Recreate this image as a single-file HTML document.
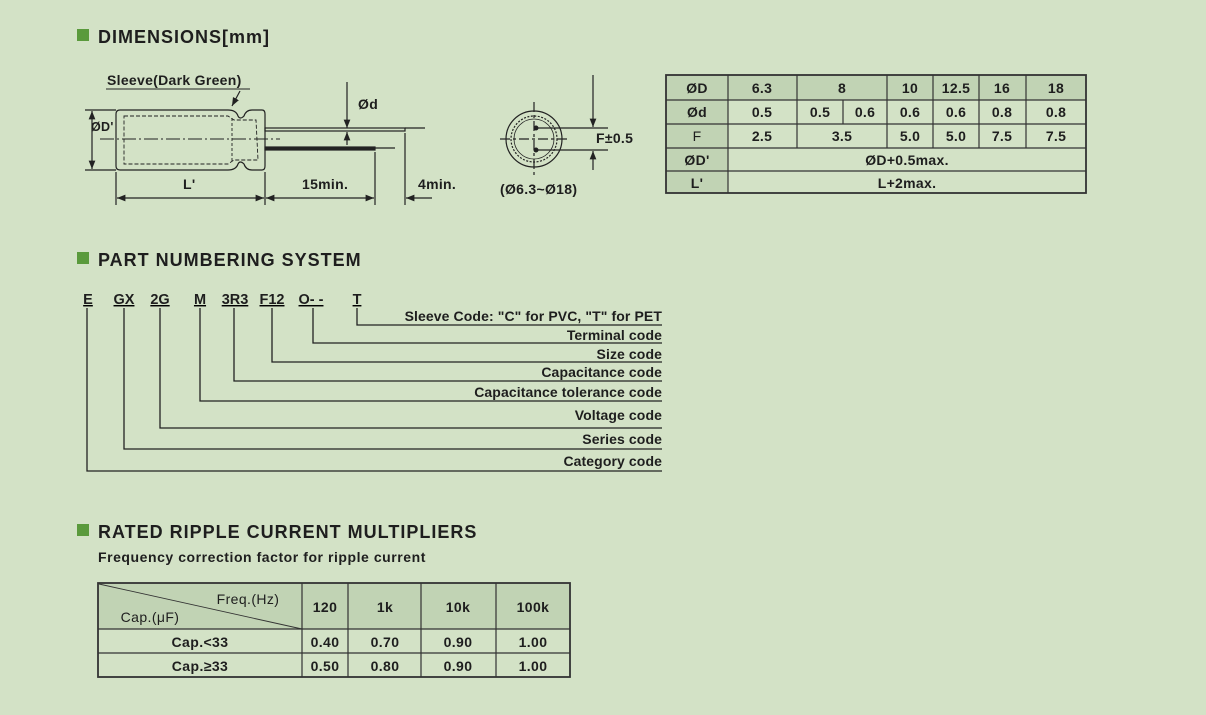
<!DOCTYPE html>
<html><head><meta charset="utf-8"><style>
body{margin:0;width:1206px;height:715px;background:#d3e2c6;overflow:hidden;font-family:"Liberation Sans",Arial,sans-serif;}
svg{position:absolute;left:0;top:0}
text{font-family:"Liberation Sans",Arial,sans-serif;fill:#1e1e1e}
</style></head><body>
<svg width="1206" height="715" viewBox="0 0 1206 715">
<defs>
<marker id="a" viewBox="0 0 10 10" refX="10" refY="5" markerWidth="7" markerHeight="7" orient="auto-start-reverse"><path d="M0,1 L10,5 L0,9 z" fill="#222"/></marker>
</defs>
<g fill="#5a9a3c">
<rect x="77" y="29" width="12" height="12"/>
<rect x="77" y="252" width="12" height="12"/>
<rect x="77" y="524" width="12" height="12"/>
</g>
<g font-size="18" font-weight="bold" letter-spacing="1">
<text x="98" y="43">DIMENSIONS[mm]</text>
<text x="98" y="266">PART NUMBERING SYSTEM</text>
<text x="98" y="538">RATED RIPPLE CURRENT MULTIPLIERS</text>
</g>
<text x="98" y="562" font-size="14" font-weight="bold" letter-spacing="0.55">Frequency correction factor for ripple current</text>

<!-- capacitor drawing -->
<g stroke="#222" fill="none" stroke-width="1.2">
<path d="M120,110 L228,110 Q236,110 238,116 Q240,120 244,116 Q246,110 252,110 L262,110 Q265,110 265,114 L265,166 Q265,170 262,170 L252,170 Q246,170 244,164 Q240,160 238,164 Q236,170 228,170 L120,170 Q116,170 116,166 L116,114 Q116,110 120,110 Z"/>
<path d="M124,116 L228,116 L234,120 L256,120 L258,160 L234,160 L228,164 L124,164 Z" stroke-dasharray="4,2" stroke-width="0.9"/>
<line x1="232" y1="118" x2="232" y2="162" stroke-dasharray="3,2" stroke-width="0.9"/>
<line x1="100" y1="139" x2="280" y2="139" stroke-dasharray="14,3,2,3" stroke-width="0.9"/>
<rect x="265" y="128" width="140" height="3" />
<rect x="265" y="147" width="110" height="3" fill="#222"/>
<line x1="375" y1="148" x2="395" y2="148"/>
<line x1="405" y1="128" x2="425" y2="128"/>
<line x1="85" y1="110" x2="116" y2="110"/>
<line x1="85" y1="170" x2="116" y2="170"/>
<line x1="92" y1="111" x2="92" y2="169" marker-start="url(#a)" marker-end="url(#a)"/>
<line x1="116" y1="172" x2="116" y2="205"/>
<line x1="265" y1="172" x2="265" y2="205"/>
<line x1="375" y1="152" x2="375" y2="205"/>
<line x1="405" y1="133" x2="405" y2="205"/>
<line x1="117" y1="198" x2="264" y2="198" marker-start="url(#a)" marker-end="url(#a)"/>
<line x1="266" y1="198" x2="374" y2="198" marker-start="url(#a)" marker-end="url(#a)"/>
<line x1="432" y1="198" x2="406" y2="198" marker-end="url(#a)"/>
<line x1="347" y1="82" x2="347" y2="128" marker-end="url(#a)"/>
<line x1="347" y1="145" x2="347" y2="132" marker-end="url(#a)"/>
<line x1="106" y1="89" x2="250" y2="89" stroke-width="0.9"/>
<line x1="240" y1="91" x2="232" y2="106" marker-end="url(#a)"/>
</g>
<g font-size="14" font-weight="bold" letter-spacing="0.3">
<text x="107" y="85">Sleeve(Dark Green)</text>
<text x="91" y="131" font-size="12.5">ØD'</text>
<text x="358" y="109">Ød</text>
<text x="183" y="189">L'</text>
<text x="302" y="189">15min.</text>
<text x="418" y="189">4min.</text>
<text x="596" y="143">F±0.5</text>
<text x="500" y="194">(Ø6.3~Ø18)</text>
</g>
<!-- circle -->
<g stroke="#222" fill="none" stroke-width="1.2">
<circle cx="534" cy="139" r="28"/>
<circle cx="534" cy="139" r="23" stroke-dasharray="2,1.5"/>
<circle cx="534" cy="139" r="20" stroke-width="0.8"/>
<line x1="500" y1="139" x2="570" y2="139" stroke-dasharray="10,3,3,3"/>
<line x1="534" y1="102" x2="534" y2="176" stroke-dasharray="10,3,3,3"/>
<line x1="536" y1="128" x2="608" y2="128"/>
<line x1="536" y1="150" x2="608" y2="150"/>
<line x1="593" y1="75" x2="593" y2="127" marker-end="url(#a)"/>
<line x1="593" y1="170" x2="593" y2="151" marker-end="url(#a)"/>
</g>
<circle cx="536" cy="128" r="2.5" fill="#222"/>
<circle cx="536" cy="150" r="2.5" fill="#222"/>

<!-- table 1 -->
<g fill="#c1d3b4"><rect x="666" y="75" width="420" height="25"/><rect x="666" y="75" width="62" height="118"/></g>
<g stroke="#333" stroke-width="1.2" fill="none">
<rect x="666" y="75" width="420" height="118" stroke-width="1.8"/>
<line x1="666" y1="100" x2="1086" y2="100"/>
<line x1="666" y1="124" x2="1086" y2="124"/>
<line x1="666" y1="148" x2="1086" y2="148"/>
<line x1="666" y1="171" x2="1086" y2="171"/>
<line x1="728" y1="75" x2="728" y2="193"/>
<line x1="797" y1="75" x2="797" y2="148"/>
<line x1="843" y1="100" x2="843" y2="124"/>
<line x1="887" y1="75" x2="887" y2="148"/>
<line x1="933" y1="75" x2="933" y2="148"/>
<line x1="979" y1="75" x2="979" y2="148"/>
<line x1="1026" y1="75" x2="1026" y2="148"/>
</g>
<g font-size="14" font-weight="bold" text-anchor="middle" letter-spacing="0.3">
<text x="697" y="93">ØD</text><text x="762" y="93">6.3</text><text x="842" y="93">8</text><text x="910" y="93">10</text><text x="956" y="93">12.5</text><text x="1002" y="93">16</text><text x="1056" y="93">18</text>
<text x="697" y="117">Ød</text><text x="762" y="117">0.5</text><text x="820" y="117">0.5</text><text x="865" y="117">0.6</text><text x="910" y="117">0.6</text><text x="956" y="117">0.6</text><text x="1002" y="117">0.8</text><text x="1056" y="117">0.8</text>
<text x="697" y="141" font-weight="normal">F</text><text x="762" y="141">2.5</text><text x="842" y="141">3.5</text><text x="910" y="141">5.0</text><text x="956" y="141">5.0</text><text x="1002" y="141">7.5</text><text x="1056" y="141">7.5</text>
<text x="697" y="165">ØD'</text><text x="907" y="165">ØD+0.5max.</text>
<text x="697" y="188">L'</text><text x="907" y="188">L+2max.</text>
</g>

<!-- part numbering -->
<g font-size="14.5" font-weight="bold" text-anchor="middle" text-decoration="underline">
<text x="88" y="304">E</text><text x="124" y="304">GX</text><text x="160" y="304">2G</text><text x="200" y="304">M</text><text x="235" y="304">3R3</text><text x="272" y="304">F12</text><text x="311" y="304">O- -</text><text x="357" y="304">T</text>
</g>
<g stroke="#222" stroke-width="1.3" fill="none">
<path d="M357,308 V325 H662"/>
<path d="M313,308 V343 H662"/>
<path d="M272,308 V362 H662"/>
<path d="M234,308 V381 H662"/>
<path d="M200,308 V401 H662"/>
<path d="M160,308 V428 H662"/>
<path d="M124,308 V449 H662"/>
<path d="M87,308 V471 H662"/>
</g>
<g font-size="14" font-weight="bold" text-anchor="end" letter-spacing="0.1">
<text x="662" y="321">Sleeve Code: "C" for PVC, "T" for PET</text>
<text x="662" y="340">Terminal code</text>
<text x="662" y="359">Size code</text>
<text x="662" y="377">Capacitance code</text>
<text x="662" y="397">Capacitance tolerance code</text>
<text x="662" y="420">Voltage code</text>
<text x="662" y="444">Series code</text>
<text x="662" y="466">Category code</text>
</g>

<!-- table 2 -->
<rect x="98" y="583" width="472" height="46" fill="#c1d3b4"/>
<g stroke="#333" stroke-width="1.2" fill="none">
<rect x="98" y="583" width="472" height="94" stroke-width="1.8"/>
<line x1="98" y1="629" x2="570" y2="629"/>
<line x1="98" y1="653" x2="570" y2="653"/>
<line x1="302" y1="583" x2="302" y2="677"/>
<line x1="348" y1="583" x2="348" y2="677"/>
<line x1="421" y1="583" x2="421" y2="677"/>
<line x1="496" y1="583" x2="496" y2="677"/>
<line x1="99" y1="584" x2="302" y2="629" stroke-width="0.9"/>
</g>
<g font-size="14" font-weight="bold" text-anchor="middle" letter-spacing="0.4">
<text x="248" y="604" font-weight="normal">Freq.(Hz)</text>
<text x="150" y="622" font-weight="normal">Cap.(μF)</text>
<text x="325" y="612">120</text><text x="385" y="612">1k</text><text x="458" y="612">10k</text><text x="533" y="612">100k</text>
<text x="200" y="647">Cap.&lt;33</text><text x="325" y="647">0.40</text><text x="385" y="647">0.70</text><text x="458" y="647">0.90</text><text x="533" y="647">1.00</text>
<text x="200" y="671">Cap.≥33</text><text x="325" y="671">0.50</text><text x="385" y="671">0.80</text><text x="458" y="671">0.90</text><text x="533" y="671">1.00</text>
</g>
</svg>
</body></html>
